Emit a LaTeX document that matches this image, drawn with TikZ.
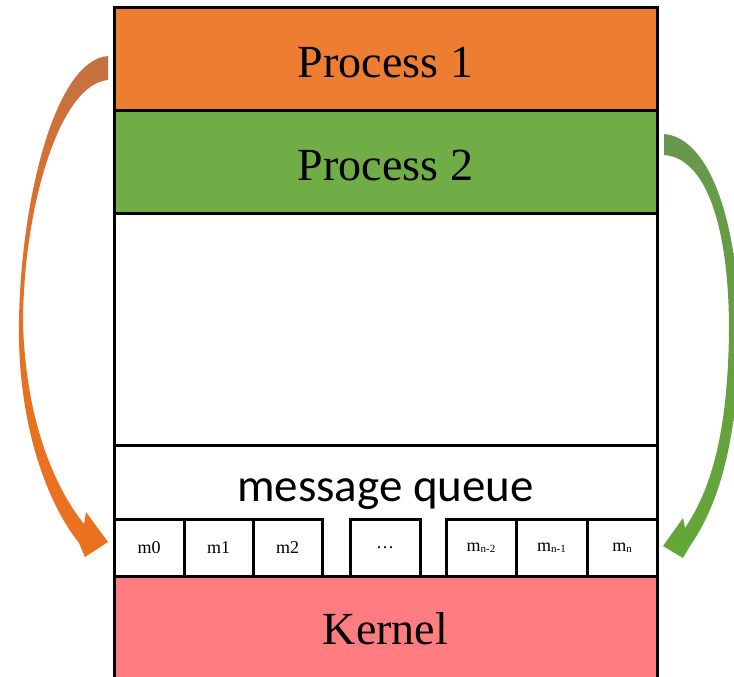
\documentclass[tikz,border=0pt]{standalone}
\usepackage{fontspec}
\setmainfont{Liberation Serif}
\newfontfamily\mqfont{Carlito}
\definecolor{pone}{RGB}{237,125,49}
\definecolor{ptwo}{RGB}{112,173,71}
\definecolor{kern}{RGB}{255,124,128}
\definecolor{oatop}{RGB}{197,113,67}
\definecolor{oabot}{RGB}{234,113,30}
\definecolor{gatop}{RGB}{104,152,76}
\definecolor{gabot}{RGB}{98,167,55}
\tikzset{
  boxstyle/.style={draw=black, line width=3pt, inner sep=0pt, outer sep=0pt, anchor=north west, minimum width=543pt},
  cellbox/.style={draw=black, line width=3pt, fill=white, inner sep=0pt, outer sep=0pt, anchor=north west, minimum height=57pt},
  bigtext/.style={font=\fontsize{46}{46}\selectfont},
  celltext/.style={font=\fontsize{18}{18}\selectfont}
}
\newcommand{\subsc}[1]{\raisebox{-1pt}{\fontsize{11}{11}\selectfont #1}}
\begin{document}
\begin{tikzpicture}[x=1pt,y=-1pt]
\useasboundingbox (0,0) rectangle (734,677);
\fill[white] (0,0) rectangle (734,677);
% boxes
\node[boxstyle, fill=pone, minimum height=102pt] (p1) at (114,8) {};
\node[bigtext] (p1t) at ([yshift=-4pt]p1.center) {Process 1};
\node[boxstyle, fill=ptwo, minimum height=103pt] (p2) at (114,110) {};
\node[bigtext] (p2t) at ([yshift=-4pt]p2.center) {Process 2};
\node[boxstyle, fill=white, minimum height=232pt] (blank) at (114,213) {};
\node[inner sep=0pt, outer sep=0pt, anchor=north west, minimum width=543pt, minimum height=74pt] (mq) at (114,445) {};
\node[font=\mqfont\fontsize{47}{47}\selectfont] (mqt) at ([yshift=-12pt]mq.center) {message queue};
\node[boxstyle, fill=kern, minimum height=106pt] (kernel) at (114,576) {};
\node[bigtext] (kt) at (385.5,629) {Kernel};
\draw[line width=3pt] (mq.north west) -- (mq.south west);
\draw[line width=3pt] (mq.north east) -- (mq.south east);
% cells
\node[cellbox, minimum width=70pt, celltext] (m0) at (114,519) {m0};
\node[cellbox, minimum width=69pt, celltext] (m1) at (184,519) {m1};
\node[cellbox, minimum width=69pt, celltext] (m2) at (253,519) {m2};
\node[cellbox, minimum width=70pt, celltext] (mdots) at (350,519) {…};
\node[cellbox, minimum width=70pt, celltext] (mn2) at (446,519) {m\subsc{n-2}};
\node[cellbox, minimum width=71pt, celltext] (mn1) at (516,519) {m\subsc{n-1}};
\node[cellbox, minimum width=70pt, celltext] (mn) at (587,519) {m\subsc{n}};
\draw[line width=3pt] (kernel.north west) -- (kernel.north east);
% orange arrow (Process 1 -> m0)
\shade[top color=oatop, bottom color=oabot, middle color=oabot!90!oatop]
  (108,56) .. controls (55,60) and (21,200) .. (19,320)
  .. controls (17,420) and (45,500) .. (79,543)
  -- (85,557) -- (108,542) -- (86,512) -- (84,524)
  .. controls (55,488) and (25,420) .. (23,320)
  .. controls (24,205) and (60,84) .. (108,80) -- cycle;
% green arrow (Process 2 -> mn)
\shade[top color=gatop, bottom color=gabot]
  (664,134) .. controls (712,138) and (739,230) .. (739,330)
  .. controls (739,430) and (722,500) .. (690,546)
  -- (683,558) -- (663,546) -- (683,518) -- (685,528)
  .. controls (712,488) and (728,430) .. (729,330)
  .. controls (729,232) and (708,158) .. (664,155) -- cycle;
\end{tikzpicture}
\end{document}
